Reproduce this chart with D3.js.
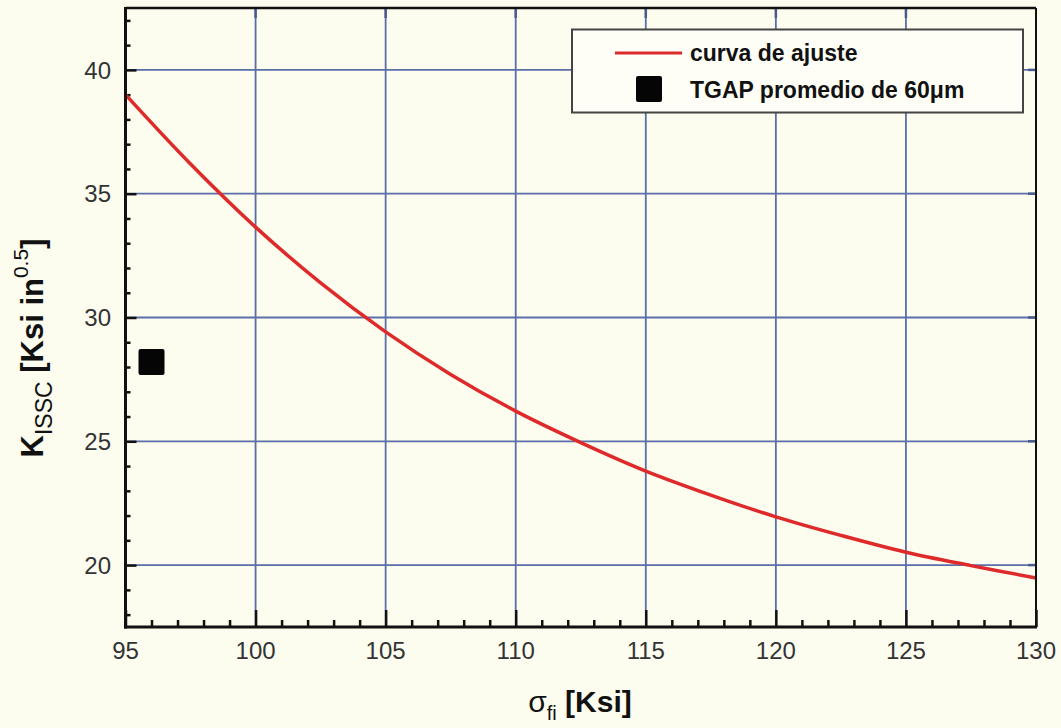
<!DOCTYPE html>
<html>
<head>
<meta charset="utf-8">
<script src="https://cdn.jsdelivr.net/npm/d3@7"></script>
<style>
  html, body { margin: 0; padding: 0; background: #fcfcef; }
  svg { display: block; font-family: "Liberation Sans", Arial, sans-serif; }
</style>
</head>
<body>
<div id="chart"></div>
<script>
// --- data ---
const sigma = [95, 97.5, 100, 102.5, 105, 107.5, 110, 112.5, 115, 117.5, 120, 122.5, 125, 127.5, 130]
const kFit = [39.0, 36.2, 33.65, 31.4, 29.42, 27.7, 26.22, 24.95, 23.8, 22.83, 21.95, 21.2, 20.52, 19.98, 19.48]
const tgapSigma = [96]
const tgapK = [28.2]
const xTicks = [95, 100, 105, 110, 115, 120, 125, 130]
const yTicks = [20, 25, 30, 35, 40]
const legendLabels = ['curva de ajuste', 'TGAP promedio de 60\u03bcm']

const width = 1061
const height = 728
const margin = {left: 125.5, right: 25, top: 8, bottom: 101}

const x = d3.scaleLinear().domain([95, 130]).range([margin.left, width - margin.right])
const y = d3.scaleLinear().domain([17.5, 42.5]).range([height - margin.bottom, margin.top])

const svg = d3.select('#chart').append('svg')
  .attr('width', width)
  .attr('height', height)
  .attr('viewBox', [0, 0, width, height])

svg.append('rect')
  .attr('width', width).attr('height', height)
  .attr('fill', '#fcfcef')

const x0 = x.range()[0], x1 = x.range()[1]
const y0 = y.range()[0], y1 = y.range()[1]

// --- grid ---
const grid = svg.append('g').attr('stroke', '#5a6ea9').attr('stroke-width', 1.8)
grid.selectAll('.vg').data(xTicks.slice(1, -1)).join('line')
  .attr('x1', d => x(d)).attr('x2', d => x(d))
  .attr('y1', y0).attr('y2', y1)
grid.selectAll('.hg').data(yTicks).join('line')
  .attr('x1', x0).attr('x2', x1)
  .attr('y1', d => y(d)).attr('y2', d => y(d))

// --- axes with inward ticks ---
const xAxis = svg.append('g')
  .attr('transform', `translate(0,${y0})`)
  .call(d3.axisBottom(x).ticks(35).tickSize(-7).tickFormat(''))
xAxis.select('.domain').remove()
xAxis.selectAll('.tick line').attr('stroke', '#111').attr('stroke-width', 2.5)
  .filter(d => xTicks.includes(d)).attr('y2', -17)

const yAxis = svg.append('g')
  .attr('transform', `translate(${x0},0)`)
  .call(d3.axisLeft(y).ticks(25).tickSize(-5).tickFormat(''))
yAxis.select('.domain').remove()
yAxis.selectAll('.tick line').attr('stroke', '#111').attr('stroke-width', 2.5)
  .filter(d => yTicks.includes(d)).attr('x2', 11)

// top / right major ticks
svg.append('g').selectAll('line').data(xTicks.slice(1, -1)).join('line')
  .attr('x1', d => x(d)).attr('x2', d => x(d))
  .attr('y1', y1).attr('y2', y1 + 10)
  .attr('stroke', '#4a5a90').attr('stroke-width', 2.5)
svg.append('g').selectAll('line').data(yTicks).join('line')
  .attr('x1', x1).attr('x2', x1 - 8)
  .attr('y1', d => y(d)).attr('y2', d => y(d))
  .attr('stroke', '#4a5a90').attr('stroke-width', 2.5)

// tick labels
svg.append('g').selectAll('text').data(xTicks).join('text')
  .attr('x', d => x(d)).attr('y', 659)
  .attr('text-anchor', 'middle')
  .attr('font-size', 24).attr('fill', '#333')
  .text(d => d)
svg.append('g').selectAll('text').data(yTicks).join('text')
  .attr('x', 111).attr('y', d => y(d)).attr('dy', '0.36em')
  .attr('text-anchor', 'end')
  .attr('font-size', 24).attr('fill', '#333')
  .text(d => d)

// --- fitted curve ---
const line = d3.line()
  .x(d => x(d[0]))
  .y(d => y(d[1]))
  .curve(d3.curveCatmullRom)

svg.append('path')
  .datum(sigma.map((s, i) => [s, kFit[i]]))
  .attr('fill', 'none')
  .attr('stroke', '#de2a2a')
  .attr('stroke-width', 3.5)
  .attr('d', line)

// --- TGAP point ---
svg.append('g').selectAll('rect').data(tgapSigma).join('rect')
  .attr('x', d => x(d) - 13)
  .attr('y', (d, i) => y(tgapK[i]) - 13)
  .attr('width', 26).attr('height', 26)
  .attr('rx', 2)
  .attr('fill', '#050505')

// --- frame ---
svg.append('line').attr('x1', x0).attr('x2', x1).attr('y1', y1).attr('y2', y1)
  .attr('stroke', '#111').attr('stroke-width', 2.5)
svg.append('line').attr('x1', x1).attr('x2', x1).attr('y1', y1).attr('y2', y0)
  .attr('stroke', '#111').attr('stroke-width', 2)
svg.append('line').attr('x1', x0).attr('x2', x0).attr('y1', y1 - 1).attr('y2', y0 + 1.5)
  .attr('stroke', '#111').attr('stroke-width', 3)
svg.append('line').attr('x1', x0 - 1.5).attr('x2', x1 + 1).attr('y1', y0).attr('y2', y0)
  .attr('stroke', '#111').attr('stroke-width', 3)

// --- legend ---
const legend = svg.append('g')
legend.append('rect')
  .attr('x', 572).attr('y', 29.5)
  .attr('width', 451).attr('height', 83)
  .attr('fill', '#fefef7')
  .attr('stroke', '#444').attr('stroke-width', 2)
legend.append('line')
  .attr('x1', 615).attr('x2', 682).attr('y1', 53).attr('y2', 53)
  .attr('stroke', '#de2a2a').attr('stroke-width', 3)
legend.append('rect')
  .attr('x', 636).attr('y', 76).attr('width', 26).attr('height', 26)
  .attr('rx', 2).attr('fill', '#050505')
legend.selectAll('text').data(legendLabels).join('text')
  .attr('x', 690).attr('y', (d, i) => 61 + i * 37)
  .attr('font-size', 23).attr('font-weight', 'bold').attr('fill', '#111')
  .text(d => d)

// --- axis titles ---
const xt = svg.append('text')
  .attr('x', 580).attr('y', 712)
  .attr('text-anchor', 'middle')
  .attr('font-size', 30).attr('fill', '#111')
xt.append('tspan').text('\u03c3')
xt.append('tspan').attr('font-size', 20).attr('dy', 8).text('fi')
xt.append('tspan').attr('dy', -8).attr('font-weight', 'bold').text(' [Ksi]')

const yt = svg.append('text')
  .attr('transform', 'translate(43,348) rotate(-90)')
  .attr('text-anchor', 'middle')
  .attr('font-size', 31).attr('font-weight', 'bold').attr('fill', '#111')
yt.append('tspan').text('K')
yt.append('tspan').attr('font-size', 23).attr('font-weight', 'normal').attr('dy', 9).text('ISSC')
yt.append('tspan').attr('dy', -9).text(' [Ksi in')
yt.append('tspan').attr('font-size', 21).attr('font-weight', 'normal').attr('dy', -15).text('0.5')
yt.append('tspan').attr('dy', 15).text(']')
</script>
</body>
</html>
